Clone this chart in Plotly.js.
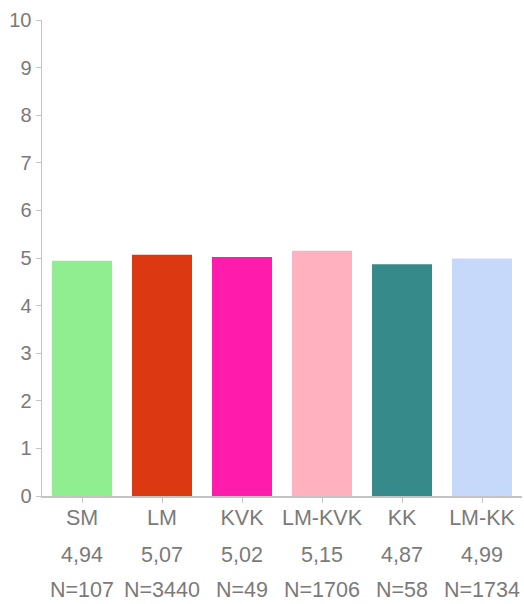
<!DOCTYPE html>
<html>
<head>
<meta charset="utf-8">
<script src="https://cdn.plot.ly/plotly-3.0.1.min.js"></script>
<style>html,body{margin:0;padding:0;background:#fff;}#chart{width:524px;height:604px;}</style>
</head>
<body>
<div id="chart"></div>
<script>
var categories = ["SM", "LM", "KVK", "LM-KVK", "KK", "LM-KK"];
var values = [4.94, 5.07, 5.02, 5.15, 4.87, 4.99];
var counts = [107, 3440, 49, 1706, 58, 1734];
var colors = ["#90EE90", "#DC3912", "#FF1CAC", "#FFB1BF", "#368A8A", "#C6D9FA"];
var yTicks = [0,1,2,3,4,5,6,7,8,9,10];

var font = "Liberation Sans, Arial, Helvetica, sans-serif";
var textColor = "#7a7a7a";

var trace = {
  type: "bar",
  x: categories,
  y: values,
  marker: {color: colors, line: {width: 0}},
  hoverinfo: "none"
};

var annotations = [];
categories.forEach(function(c, i) {
  annotations.push({
    x: c, xref: "x", y: 0, yref: "paper", yanchor: "middle",
    yshift: -59, showarrow: false,
    text: values[i].toFixed(2).replace(".", ","),
    font: {family: font, size: 21.5, color: textColor}
  });
  annotations.push({
    x: c, xref: "x", y: 0, yref: "paper", yanchor: "middle",
    yshift: -94, showarrow: false,
    text: "N=" + counts[i],
    font: {family: font, size: 21.5, color: textColor}
  });
});

var layout = {
  width: 524, height: 604,
  margin: {l: 42, r: 2, t: 20, b: 108, pad: 0},
  paper_bgcolor: "#fff", plot_bgcolor: "#fff",
  showlegend: false,
  bargap: 0.25,
  font: {family: font, size: 20, color: textColor},
  xaxis: {
    type: "category",
    showgrid: false, zeroline: false,
    showline: true, linecolor: "#c4c4c4", linewidth: 1.5,
    ticks: "outside", ticklen: 5, tickcolor: "#c4c4c4", tickwidth: 1,
    ticklabelstandoff: -3,
    tickfont: {family: font, size: 21.5, color: textColor},
    fixedrange: true
  },
  yaxis: {
    range: [0, 10],
    tickvals: yTicks,
    ticktext: yTicks.map(String),
    showgrid: false, zeroline: false,
    showline: true, linecolor: "#c4c4c4", linewidth: 1.5,
    ticks: "outside", ticklen: 5, tickcolor: "#c4c4c4", tickwidth: 1,
    tickfont: {family: font, size: 20, color: textColor},
    fixedrange: true
  },
  annotations: annotations
};

Plotly.newPlot("chart", [trace], layout, {displayModeBar: false, staticPlot: true});
</script>
</body>
</html>
